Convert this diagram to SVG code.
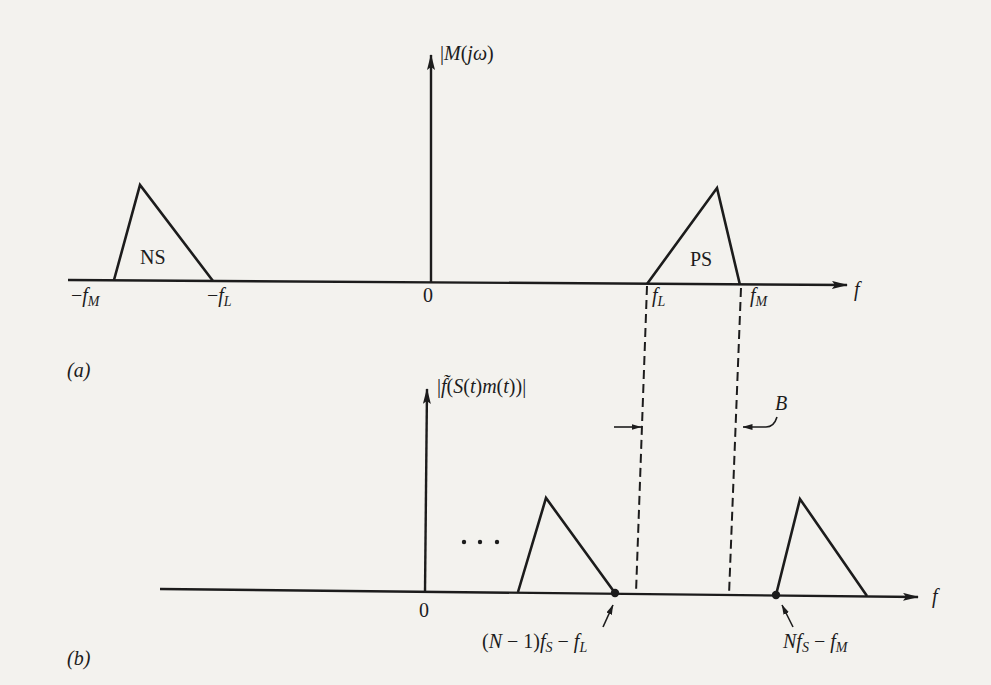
<svg xmlns="http://www.w3.org/2000/svg" width="991" height="685" viewBox="0 0 991 685">
<defs>
<style>
.ln{stroke:#1c1c1c;stroke-width:2.6;fill:none;stroke-linejoin:miter}
.ax{stroke:#1c1c1c;stroke-width:2.4;fill:none}
.ds{stroke:#1c1c1c;stroke-width:2;fill:none;stroke-dasharray:9 5}
.th{stroke:#1c1c1c;stroke-width:1.6;fill:none}
.t{font-family:"Liberation Serif",serif;font-size:20px;fill:#1c1c1c}
.i{font-style:italic}
.sub{font-size:14px;font-style:italic}
</style>
<marker id="ah" viewBox="0 0 16 8" refX="15" refY="4" markerWidth="16" markerHeight="8" markerUnits="userSpaceOnUse" orient="auto">
<path d="M0,0 L16,4 L0,8 L3,4 Z" fill="#1c1c1c"/>
</marker>
<marker id="sh" viewBox="0 0 10 6" refX="9.5" refY="3" markerWidth="10" markerHeight="6" markerUnits="userSpaceOnUse" orient="auto">
<path d="M0,0 L10,3 L0,6 Z" fill="#1c1c1c"/>
</marker>
</defs>
<rect width="991" height="685" fill="#f3f2ee"/>

<g id="axes-a">
<line class="ax" x1="68" y1="280" x2="847" y2="285" marker-end="url(#ah)"/>
<line class="ax" x1="431" y1="283" x2="431" y2="55" marker-end="url(#ah)"/>
</g>
<g id="axes-b">
<line class="ax" x1="160" y1="589" x2="918" y2="597" marker-end="url(#ah)"/>
<line class="ax" x1="425" y1="592" x2="427" y2="389" marker-end="url(#ah)"/>
</g>

<g id="NS">
<polyline class="ln" points="114,280 140,185 213,281"/>
<text class="t" x="140" y="264">NS</text>
</g>
<g id="PS">
<polyline class="ln" points="647,284 717,188 740,285"/>
<text class="t" x="690" y="266">PS</text>
</g>
<g id="spec1">
<polyline class="ln" points="518,592 546,498 615,593"/>
<circle cx="615" cy="593" r="4.2" fill="#1c1c1c"/>
</g>
<g id="spec2">
<polyline class="ln" points="776,595 800,499 867,596"/>
<circle cx="776" cy="595" r="4.2" fill="#1c1c1c"/>
</g>
<g id="ellipsis" fill="#1c1c1c">
<circle cx="464" cy="542" r="2.2"/>
<circle cx="480" cy="542" r="2.2"/>
<circle cx="497" cy="542" r="2.2"/>
</g>

<g id="connectors">
<line class="ds" x1="647" y1="286" x2="636" y2="593"/>
<line class="ds" x1="741" y1="288" x2="729" y2="595"/>
<line class="th" x1="614" y1="427" x2="641" y2="427" marker-end="url(#sh)"/>
<path class="th" d="M777,417 Q774,427 766,427 L743,427" marker-end="url(#sh)"/>
<line class="th" x1="603" y1="627" x2="613" y2="605" marker-end="url(#sh)"/>
<line class="th" x1="793" y1="627" x2="782" y2="605" marker-end="url(#sh)"/>
</g>

<g id="labels">
<text class="t" x="440" y="60"><tspan>|</tspan><tspan class="i">M</tspan><tspan>(</tspan><tspan class="i">jω</tspan><tspan>)</tspan></text>
<text class="t i" x="854" y="296">f</text>
<text class="t" x="71" y="302">−<tspan class="i">f</tspan><tspan class="sub" dy="4">M</tspan></text>
<text class="t" x="207" y="302">−<tspan class="i">f</tspan><tspan class="sub" dy="4">L</tspan></text>
<text class="t" x="423" y="302">0</text>
<text class="t" x="652" y="302"><tspan class="i">f</tspan><tspan class="sub" dy="4">L</tspan></text>
<text class="t" x="750" y="302"><tspan class="i">f</tspan><tspan class="sub" dy="4">M</tspan></text>
<text class="t i" x="67" y="377">(a)</text>
<text class="t" x="437" y="393">|<tspan class="i">f̃</tspan>(<tspan class="i">S</tspan>(<tspan class="i">t</tspan>)<tspan class="i">m</tspan>(<tspan class="i">t</tspan>))|</text>
<text class="t i" x="775" y="410">B</text>
<text class="t i" x="932" y="603">f</text>
<text class="t" x="419" y="617">0</text>
<text class="t" x="482" y="648">(<tspan class="i">N</tspan> − 1)<tspan class="i">f</tspan><tspan class="sub" dy="4">S</tspan><tspan dy="-4"> − </tspan><tspan class="i">f</tspan><tspan class="sub" dy="4">L</tspan></text>
<text class="t" x="783" y="648"><tspan class="i">Nf</tspan><tspan class="sub" dy="4">S</tspan><tspan dy="-4"> − </tspan><tspan class="i">f</tspan><tspan class="sub" dy="4">M</tspan></text>
<text class="t i" x="67" y="665">(b)</text>
</g>
</svg>
